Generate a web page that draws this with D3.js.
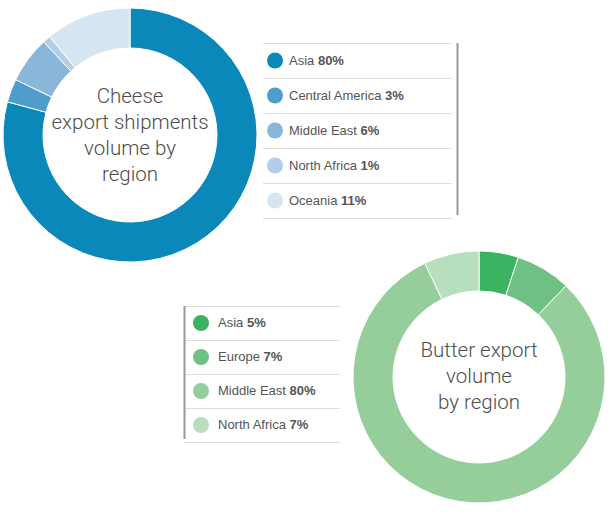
<!DOCTYPE html>
<html>
  <head>
    <meta charset="utf-8" />
    <title>Export volume by region</title>
    <script src="https://d3js.org/d3.v7.min.js"></script>
    <style>
      body { margin: 0; background: #fff; }
      .title { font-family: Roboto, sans-serif; font-weight: 300; font-size: 20.5px; fill: #4d4d4d; }
      .legend text { font-family: "Liberation Sans", Arial, sans-serif; font-size: 13px; fill: #555; }
      .legend .val { font-weight: bold; }
    </style>
  </head>
  <body>
    <svg width="610" height="515" id="chart"></svg>
    <script>
      // cheese shipments
      var cheeseRegions = ["Asia", "Central America", "Middle East", "North Africa", "Oceania"];
      var cheeseValues = [80, 3, 6, 1, 11];
      var cheeseColors = ["#0a88b9", "#4f9dcb", "#8ab6da", "#b2cfea", "#d6e5f2"];
      var cheeseTitle = ["Cheese", "export shipments", "volume by", "region"];

      // butter
      var butterRegions = ["Asia", "Europe", "Middle East", "North Africa"];
      var butterValues = [5, 7, 80, 7];
      var butterColors = ["#3cb360", "#6ec084", "#95cd9b", "#b8dfbd"];
      var butterTitle = ["Butter export", "volume", "by region"];

      var svg = d3.select("#chart");

      // draws one donut with its title in the middle
      function drawDonut(cx, cy, outerR, innerR, values, colors, title, titleTop) {
        var g = svg.append("g").attr("transform", "translate(" + cx + "," + cy + ")");
        var pie = d3.pie().sort(null);
        var arc = d3.arc().innerRadius(innerR).outerRadius(outerR);

        g.selectAll("path")
          .data(pie(values))
          .enter().append("path")
          .attr("d", arc)
          .attr("fill", function(d, i){ return colors[i]; })
          .attr("stroke", "#fff")
          .attr("stroke-width", 1);

        // titleTop is the first baseline, relative to the centre
        g.selectAll("text.title")
          .data(title)
          .enter().append("text")
          .attr("class", "title")
          .attr("text-anchor", "middle")
          .attr("x", 0)
          .attr("y", function(d, i){ return titleTop + i * 26; })
          .text(function(d){ return d; });
      }

      // legend rows separated by thin rules, one dark vertical rule on a side
      function drawLegend(x, y, w, rowH, regions, values, colors, side) {
        var g = svg.append("g").attr("class", "legend").attr("transform", "translate(" + x + "," + y + ")");
        var rows = d3.range(regions.length + 1);

        g.selectAll("line.rule")
          .data(rows)
          .enter().append("line")
          .attr("x1", 0).attr("x2", w)
          .attr("y1", function(d){ return d * rowH + 0.5; })
          .attr("y2", function(d){ return d * rowH + 0.5; })
          .attr("stroke", "#dedede")
          .attr("stroke-width", 1);

        var vx = side == "right" ? w + 5.5 : 0.5;
        g.append("line")
          .attr("x1", vx).attr("x2", vx)
          .attr("y1", 0).attr("y2", regions.length * rowH - 3)
          .attr("stroke", "#999")
          .attr("stroke-width", 2);

        var item = g.selectAll("g.item")
          .data(regions)
          .enter().append("g")
          .attr("transform", function(d, i){ return "translate(0," + (i * rowH + rowH / 2) + ")"; });

        item.append("circle")
          .attr("cx", side == "right" ? 12 : 17)
          .attr("cy", 0)
          .attr("r", 8)
          .attr("fill", function(d, i){ return colors[i]; });

        var t = item.append("text")
          .attr("x", side == "right" ? 26 : 34)
          .attr("y", 4);
        t.append("tspan").text(function(d){ return d + " "; });
        t.append("tspan").attr("class", "val").text(function(d, i){ return values[i] + "%"; });
      }

      drawDonut(130, 135, 127, 87, cheeseValues, cheeseColors, cheeseTitle, -32);
      drawLegend(263, 43, 189, 35, cheeseRegions, cheeseValues, cheeseColors, "right");

      drawDonut(479, 377, 126, 86, butterValues, butterColors, butterTitle, -20);
      drawLegend(184, 306, 156, 34, butterRegions, butterValues, butterColors, "left");
    </script>
  </body>
</html>
